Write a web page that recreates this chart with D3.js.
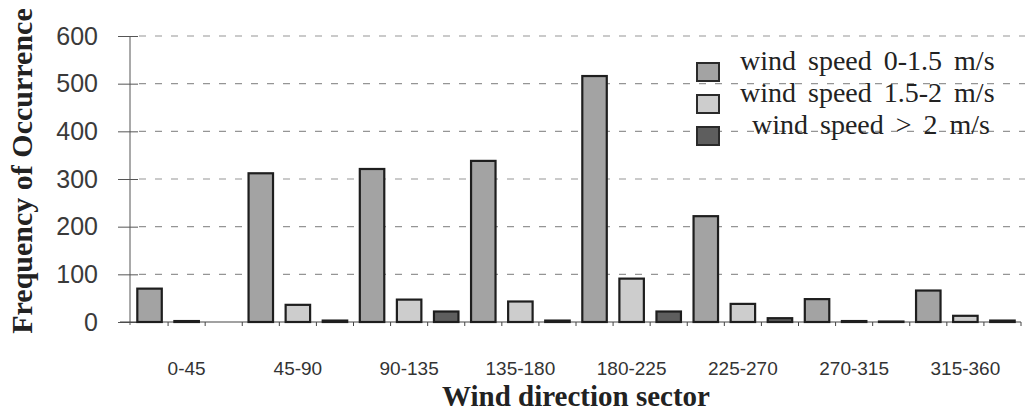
<!DOCTYPE html>
<html>
<head>
<meta charset="utf-8">
<script src="https://cdn.jsdelivr.net/npm/d3@7"></script>
<style>
  body { margin: 0; background: #fff; }
  svg { display: block; }
</style>
</head>
<body>
<svg id="drawing_region"></svg>
<script>
// data
const sectors = ["0-45", "45-90", "90-135", "135-180", "180-225", "225-270", "270-315", "315-360"];
const seriesNames = ["wind speed 0-1.5 m/s", "wind speed 1.5-2 m/s", " wind speed > 2 m/s"];
const speedLow  = [70, 312, 321, 338, 516, 222, 48, 66];
const speedMid  = [2, 36, 47, 43, 91, 38, 2, 13];
const speedHigh = [0, 3, 22, 3, 22, 8, 1, 3];
const yTicks = [0, 100, 200, 300, 400, 500, 600];

const seriesValues = [speedLow, speedMid, speedHigh];
const fills = ["#a3a3a3", "#cdcdcd", "#5e5e5e"];

const width = 1025;
const height = 413;
const margin = {top: 36, right: 4, bottom: 91, left: 131};

const svg = d3.select('#drawing_region')
    .attr('width', width)
    .attr('height', height);

// scales
const xscale = d3.scaleBand()
    .domain(sectors)
    .range([margin.left, width - margin.right])
    .padding(0);

const inner = d3.scaleBand()
    .domain([0, 1, 2])
    .range([0, xscale.bandwidth()])
    .paddingInner(0.34)
    .paddingOuter(0.17);

const yscale = d3.scaleLinear()
    .domain([0, 600])
    .range([height - margin.bottom, margin.top]);

// dashed gridlines
svg.append('g')
  .selectAll('line')
  .data(yTicks.filter(d => d > 0))
  .enter()
  .append('line')
    .attr('x1', margin.left + 8)
    .attr('x2', width)
    .attr('y1', d => yscale(d))
    .attr('y2', d => yscale(d))
    .attr('stroke', '#959595')
    .attr('stroke-width', 1.2)
    .attr('stroke-dasharray', '7,9');

// y axis
const yaxis = d3.axisLeft(yscale)
    .tickValues(yTicks)
    .tickSize(0)
    .tickPadding(32);

const yg = svg.append('g')
    .attr('transform', `translate(${margin.left - 1}, 0)`)
    .call(yaxis);
yg.select('.domain').attr('stroke', '#555').attr('d', `M0,${yscale(600)}V${yscale(0) + 3}`);
yg.selectAll('text')
    .attr('font-family', '"Liberation Sans", Arial, sans-serif')
    .attr('font-size', 25)
    .attr('fill', '#3a3a3a');
// small cross ticks on the y axis
yg.selectAll('.tick').append('line')
    .attr('x1', -12).attr('x2', 8)
    .attr('stroke', '#555').attr('stroke-width', 1);

// x axis baseline with ticks at every slot edge
const slotEdges = [];
sectors.forEach(s => {
  for (let k = 1; k <= 3; k++) slotEdges.push(xscale(s) + k * xscale.bandwidth() / 3);
});
const xg = svg.append('g');
xg.append('line')
    .attr('x1', margin.left - 11)
    .attr('x2', width - 4)
    .attr('y1', yscale(0))
    .attr('y2', yscale(0))
    .attr('stroke', '#444')
    .attr('stroke-width', 1.2);
xg.selectAll('line.tk')
  .data(slotEdges)
  .enter()
  .append('line')
    .attr('class', 'tk')
    .attr('x1', d => d).attr('x2', d => d)
    .attr('y1', yscale(0)).attr('y2', yscale(0) + 4)
    .attr('stroke', '#444');

// category labels
xg.selectAll('text')
  .data(sectors)
  .enter()
  .append('text')
    .attr('x', d => xscale(d) + xscale.bandwidth() / 2)
    .attr('y', 375)
    .attr('text-anchor', 'middle')
    .attr('font-family', '"Liberation Sans", Arial, sans-serif')
    .attr('font-size', 19)
    .attr('fill', '#333')
    .text(d => d);

// bars
const barData = [];
sectors.forEach((s, i) => {
  seriesValues.forEach((vals, j) => {
    barData.push({sector: s, series: j, value: vals[i]});
  });
});

svg.append('g')
  .selectAll('rect')
  .data(barData.filter(d => d.value > 0))
  .enter()
  .append('rect')
    .attr('x', d => xscale(d.sector) + inner(d.series))
    .attr('y', d => yscale(d.value))
    .attr('width', inner.bandwidth())
    .attr('height', d => yscale(0) - yscale(d.value))
    .attr('fill', d => fills[d.series])
    .attr('stroke', '#1e1e1e')
    .attr('stroke-width', 2.2);

// legend
const legend = svg.append('g');
const lg = legend.selectAll('g')
  .data(seriesNames)
  .enter()
  .append('g')
    .attr('transform', (d, i) => `translate(697, ${63 + i * 32})`);
lg.append('rect')
    .attr('width', 22)
    .attr('height', 18)
    .attr('fill', (d, i) => fills[i])
    .attr('stroke', '#2a2a2a')
    .attr('stroke-width', 2);
lg.append('text')
    .attr('x', 43)
    .attr('y', 7)
    .attr('font-family', '"Liberation Serif", "Times New Roman", serif')
    .attr('font-size', 28)
    .attr('word-spacing', 5)
    .attr('fill', '#222')
    .style('white-space', 'pre')
    .text(d => d);

// axis titles
svg.append('text')
    .attr('transform', 'translate(32, 171) rotate(-90)')
    .attr('text-anchor', 'middle')
    .attr('font-family', '"Liberation Serif", "Times New Roman", serif')
    .attr('font-weight', 'bold')
    .attr('font-size', 30)
    .attr('fill', '#222')
    .text('Frequency of Occurrence');

svg.append('text')
    .attr('x', 576)
    .attr('y', 406)
    .attr('text-anchor', 'middle')
    .attr('font-family', '"Liberation Serif", "Times New Roman", serif')
    .attr('font-weight', 'bold')
    .attr('font-size', 29)
    .attr('fill', '#222')
    .text('Wind direction sector');
</script>
</body>
</html>
